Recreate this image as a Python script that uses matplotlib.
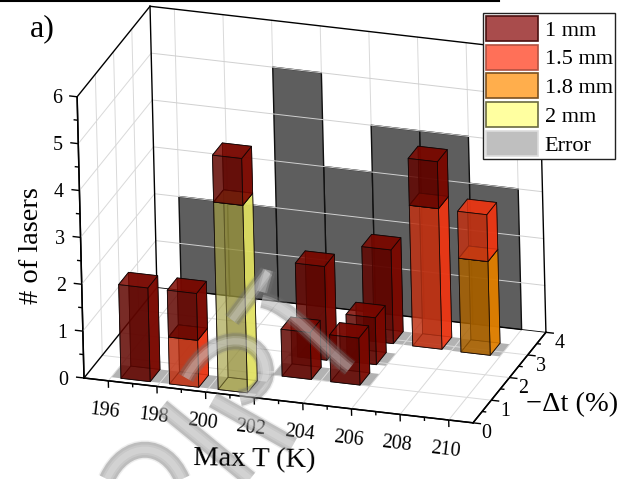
import numpy as np
import matplotlib
matplotlib.use("Agg")
import matplotlib.pyplot as plt
from matplotlib.patches import Patch, PathPatch
from matplotlib.path import Path
from matplotlib.lines import Line2D
from matplotlib.transforms import Affine2D
from mpl_toolkits.mplot3d import proj3d
from mpl_toolkits.mplot3d.art3d import Poly3DCollection

# ---------- data ----------
max_t    = [197, 199, 201, 203, 203, 205, 205, 205, 207, 209]
delta_t  = [0.43, 0.43, 0.43, 1.27, 2.12, 1.27, 2.17, 3.10, 3.10, 3.08]
n_2mm    = [0, 0, 4, 0, 0, 0, 0, 0, 0, 0]
n_1p8mm  = [0, 0, 0, 0, 0, 0, 0, 0, 0, 2]
n_1p5mm  = [0, 1, 0, 0, 0, 0, 0, 0, 3, 1]
n_1mm    = [2, 1, 1, 1, 2, 1, 1, 2, 1, 0]
wall_t   = [197, 199, 201, 203, 205, 207, 209]
wall_n   = [2, 2, 5, 3, 4, 4, 3]
x_ticks  = [196, 198, 200, 202, 204, 206, 208, 210]
y_ticks  = [0, 1, 2, 3, 4]
z_ticks  = [0, 1, 2, 3, 4, 5, 6]
legend_labels = ["1 mm", "1.5 mm", "1.8 mm", "2 mm", "Error"]
legend_faces  = ["#a94c4c", "#ff7058", "#ffae4c", "#ffffa0", "#bfbfbf"]
legend_edges  = ["#4a1010", "#b05040", "#7a5020", "#6a6a40", "#dddddd"]

W, H = 632, 479
plt.rcParams["font.family"] = ["Liberation Serif", "DejaVu Serif"]
fig = plt.figure(figsize=(W / 100, H / 100), dpi=100)
ax = fig.add_axes([0, 0, 1, 1], projection="3d", proj_type="ortho", computed_zorder=False)
ax.patch.set_alpha(0)
XMIN, XMAX, YMIN, YMAX, ZMIN, ZMAX = 195, 211, 0, 4, 0, 6
ax.set_box_aspect((1.332, 0.749, 1.0))
ax.view_init(elev=24, azim=-71, roll=1.4)
ax.set_xlim(XMIN, XMAX, view_margin=0)
ax.set_ylim(YMIN, YMAX, view_margin=0)
ax.set_zlim(ZMIN, ZMAX, view_margin=0)
ax.autoscale(False)

for axis in (ax.xaxis, ax.yaxis, ax.zaxis):
    axis.set_pane_color((1, 1, 1, 0))
    axis.line.set_color("black")
    axis.line.set_linewidth(1.1)
ax.grid(False)
ax.set_xticks(x_ticks)
ax.set_yticks(y_ticks)
ax.set_zticks(z_ticks)
ax.tick_params(axis="both", color="none", labelsize=14.4)
ax.tick_params(axis="x", pad=2.5, labelrotation=-6.5)
ax.tick_params(axis="y", pad=-1)
ax.tick_params(axis="z", pad=1)
ax.xaxis._get_tickdir = lambda position: 2
ax.zaxis.set_ticks_position("lower")
for tick in ax.zaxis.get_major_ticks():
    tick.label1.set_va("center")
for tick in ax.yaxis.get_major_ticks():
    tick.label1.set_va("center")

# error projections
def rect(xa, xb, ya, yb, za, zb):
    if ya == yb:
        return [(xa, ya, za), (xb, ya, za), (xb, ya, zb), (xa, ya, zb)]
    return [(xa, ya, za), (xb, ya, za), (xb, yb, za), (xa, yb, za)]

wall = Poly3DCollection([rect(t - 1, t + 1, YMAX, YMAX, 0, n) for t, n in zip(wall_t, wall_n)],
                        facecolors="#5e5e5e", edgecolors="#101010", linewidths=1.0, zorder=2.1)
ax.add_collection3d(wall)
BAR_W, BAR_D = 1.2, 0.54
floor = Poly3DCollection([rect(t - 1, t + 1, d - BAR_D / 2, d + BAR_D / 2, 0, 0)
                          for t, d in zip(max_t, delta_t)],
                         facecolors="#b2b2b2", edgecolors="none", zorder=1)
ax.add_collection3d(floor)

# grid
GRID = dict(color="#d9d9d9", lw=0.7, zorder=2)
GRID_TOP = dict(color="#d0d0d0", lw=0.7, zorder=2.15)
for t in x_ticks:
    ax.plot([t, t], [YMIN, YMAX], [0, 0], **GRID)
    ax.plot([t, t], [YMAX, YMAX], [ZMIN, ZMAX], **GRID)
for d in y_ticks[1:-1]:
    ax.plot([XMIN, XMAX], [d, d], [0, 0], **GRID)
    ax.plot([XMIN, XMIN], [d, d], [ZMIN, ZMAX], **GRID)
for z in z_ticks[1:-1]:
    ax.plot([XMIN, XMAX], [YMAX, YMAX], [z, z], **GRID_TOP)
    ax.plot([XMIN, XMIN], [YMIN, YMAX], [z, z], **GRID)

# box edges
EDGE = dict(color="black", lw=1.0, zorder=2.2)
ax.plot([XMIN, XMIN], [YMIN, YMAX], [ZMIN, ZMIN], **EDGE)
ax.plot([XMIN, XMIN], [YMIN, YMAX], [ZMAX, ZMAX], **EDGE)
ax.plot([XMIN, XMIN], [YMAX, YMAX], [ZMIN, ZMAX], **EDGE)
ax.plot([XMAX, XMAX], [YMAX, YMAX], [ZMIN, ZMAX], **EDGE)
ax.plot([XMIN, XMAX], [YMAX, YMAX], [ZMAX, ZMAX], **EDGE)
ax.plot([XMIN, XMAX], [YMAX, YMAX], [ZMIN, ZMIN], color="black", lw=0.6, zorder=2.2)
ax.plot([XMIN, XMAX], [YMIN, YMIN], [ZMIN, ZMIN], **EDGE)
ax.plot([XMAX, XMAX], [YMIN, YMAX], [ZMIN, ZMIN], **EDGE)
ax.plot([XMIN, XMIN], [YMIN, YMIN], [ZMIN, ZMAX], **EDGE)

# tick marks
TK = dict(color="black", lw=1.0, zorder=2.5, solid_capstyle="butt")
for t in np.arange(XMIN + 1, XMAX, 1):
    ln = 0.15 if t % 2 == 0 else 0.08
    ax.plot([t, t], [0, 0], [0, -ln], **TK)
for d in np.arange(0, YMAX + 0.1, 0.5):
    ln = 0.33 if d % 1 == 0 else 0.17
    ax.plot([XMAX, XMAX + ln], [d, d], [0, 0], **TK)
for z in np.arange(0, ZMAX + 0.1, 0.5):
    ln = 0.33 if z % 1 == 0 else 0.17
    ax.plot([XMIN, XMIN - ln], [0, 0], [z, z], **TK)

# stacked bars, bottom to top: 2, 1.8, 1.5, 1 mm
def faces(dark, side, a=0.8):
    c = lambda rgb, al: tuple(v / 255 for v in rgb) + (al,)
    return [c(side, 0.45), c(side, 0.8), c(dark, a), c(dark, a), c(side, 0.25), c(side, 0.85)]

STYLE = [(n_2mm, faces((150, 145, 60), (232, 232, 100), 0.55)),
         (n_1p8mm, faces((165, 95, 0), (230, 130, 0))),
         (n_1p5mm, faces((188, 50, 20), (240, 55, 20), 0.8)),
         (n_1mm, faces((95, 5, 0), (125, 8, 0)))]
bx, by, bz, bdz, bc = [], [], [], [], []
for i in range(len(max_t)):
    base = 0
    for vals, col in STYLE:
        if vals[i] > 0:
            bx.append(max_t[i] - BAR_W / 2); by.append(delta_t[i] - BAR_D / 2)
            bz.append(base); bdz.append(vals[i]); bc.extend(col)
            base += vals[i]
ax.bar3d(bx, by, bz, BAR_W, BAR_D, bdz, color=bc, shade=False,
         edgecolor=(0.05, 0.02, 0.02, 0.85), linewidth=0.6, zorder=3)

# place the box on the figure
def corner_px(x, y, z):
    ax.apply_aspect()
    px, py, _ = proj3d.proj_transform(x, y, z, ax.get_proj())
    return ax.transData.transform((px, py))

target_a = np.array([84, H - 378], float)
target_b = np.array([473, H - 423], float)
for _ in range(3):
    a = corner_px(XMIN, YMIN, ZMIN)
    b = corner_px(XMAX, YMIN, ZMIN)
    s = np.linalg.norm(target_b - target_a) / np.linalg.norm(b - a)
    pos = ax.get_position(original=True)
    size = pos.width * W * s
    ctr = np.array([pos.x0 * W + pos.width * W / 2, pos.y0 * H + pos.height * H / 2])
    ctr = target_a + (ctr - a) * s
    ax.set_position([(ctr[0] - size / 2) / W, (ctr[1] - size / 2) / H, size / W, size / H])

# page-level overlays in image pixels
to_fig = Affine2D().scale(1 / W, -1 / H).translate(0, 1) + fig.transFigure
fig.add_artist(Line2D([0, 499], [0.5, 0.5], color="black", lw=1.5, transform=to_fig))

M, L, C = Path.MOVETO, Path.LINETO, Path.CURVE4
strokes = [
    ([(232, 320), (268, 272)], [M, L]),
    ([(268, 270), (262, 292)], [M, L]),
    ([(262, 300), (290, 305), (320, 345), (350, 368)], [M, C, C, C]),
    ([(186, 378), (215, 325), (265, 335), (266, 372)], [M, C, C, C]),
    ([(266, 372), (266, 385), (255, 395), (240, 398)], [M, C, C, C]),
    ([(162, 407), (250, 479)], [M, L]),
    ([(213, 400), (293, 445)], [M, L]),
    ([(107, 479), (125, 440), (165, 440), (182, 479)], [M, C, C, C]),
]
for pts, codes in strokes:
    p = Path(pts, codes)
    for lw, col, al, z in [(13.5, "#707070", 0.12, 10), (11.5, "#707070", 0.38, 10.1),
                           (7.5, "white", 0.18, 10.3), (4.5, "white", 0.20, 10.4)]:
        fig.add_artist(PathPatch(p, fc="none", ec=col, lw=lw, alpha=al, capstyle="butt",
                                 transform=to_fig, zorder=z))

# text
def ptext(x, y, s, **kw):
    fig.text(x, y, s, transform=to_fig, ha="center", va="center", zorder=12, **kw)

ptext(42, 29, "a)", fontsize=23)
ptext(254, 460, "Max T (K)", fontsize=20.5, rotation=-1)
ptext(32, 246, "# of lasers", fontsize=20.5, rotation=90)
ptext(572, 405, "\u2212\u0394t (%)", fontsize=20.5)

handles = [Patch(facecolor=f, edgecolor=e, linewidth=1.2) for f, e in zip(legend_faces, legend_edges)]
leg = fig.legend(handles, legend_labels, loc="upper left", bbox_to_anchor=(483 / W, 1 - 13 / H),
                 bbox_transform=fig.transFigure, fontsize=16, frameon=True, fancybox=False,
                 framealpha=1, edgecolor="#222222", handlelength=2.34, handleheight=1.355,
                 labelspacing=0.165, handletextpad=0.3, borderpad=0.13, borderaxespad=0)
leg.get_frame().set_linewidth(1.0)
leg.set_zorder(20)

fig.savefig("out.png", dpi=100)
